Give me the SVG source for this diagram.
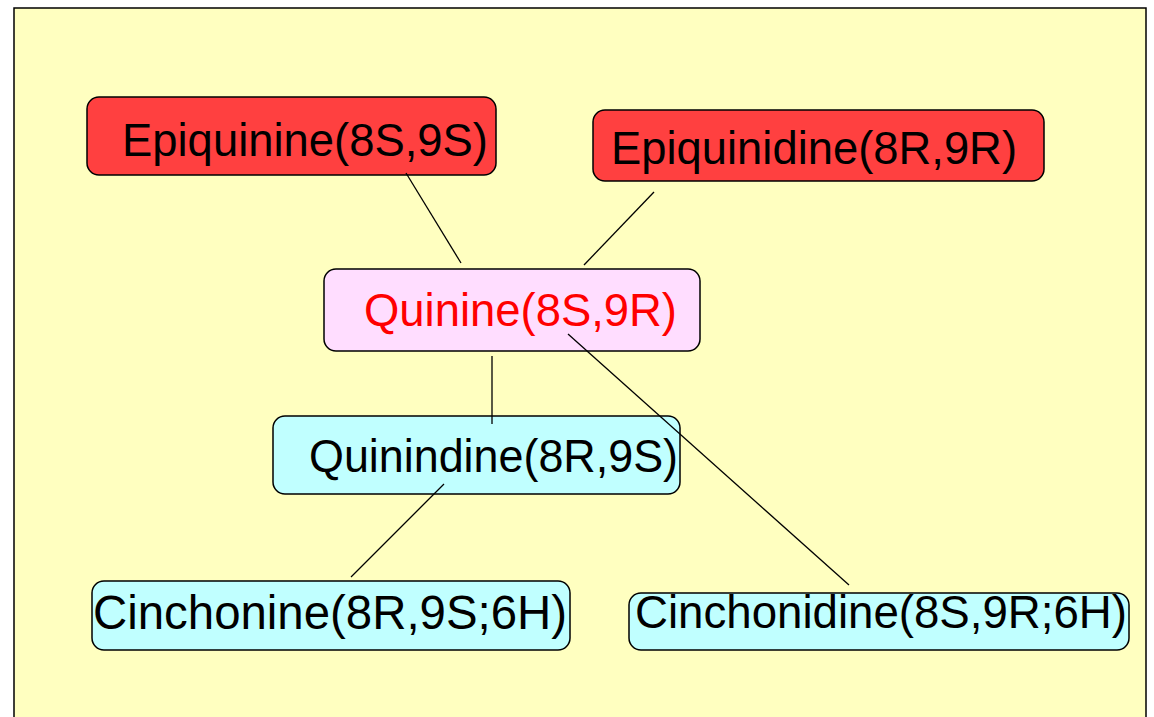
<svg xmlns="http://www.w3.org/2000/svg" width="1154" height="717" viewBox="0 0 1154 717">
<style>
.box{stroke:#000;stroke-width:1.5}
.red{fill:#FF4040}
.pink{fill:#FFDDFF}
.cyan{fill:#C0FFFF}
text{font-family:"Liberation Sans",Arial,sans-serif;font-size:46px;fill:#000}
.conn line{stroke:#000;stroke-width:1.3}
</style>
<rect x="0" y="0" width="1154" height="717" fill="#fff"/>
<rect x="14" y="8" width="1132" height="720" fill="#FFFFC0" stroke="#000" stroke-width="1.5"/>
<g id="epiquinine">
<rect class="box red" x="87" y="97" width="409" height="78" rx="12"/>
<text x="122" y="156" textLength="366" lengthAdjust="spacingAndGlyphs">Epiquinine(8S,9S)</text>
</g>
<g id="epiquinidine">
<rect class="box red" x="593" y="110" width="451" height="71" rx="12"/>
<text x="611" y="164" textLength="406" lengthAdjust="spacingAndGlyphs">Epiquinidine(8R,9R)</text>
</g>
<g id="quinine">
<rect class="box pink" x="324" y="269" width="376" height="82" rx="12"/>
<text x="364" y="326" style="fill:#FF0000" textLength="313" lengthAdjust="spacingAndGlyphs">Quinine(8S,9R)</text>
</g>
<g id="quinindine">
<rect class="box cyan" x="273" y="416" width="407" height="78" rx="12"/>
<text x="309" y="472" textLength="369" lengthAdjust="spacingAndGlyphs">Quinindine(8R,9S)</text>
</g>
<g id="cinchonine">
<rect class="box cyan" x="92" y="581" width="478" height="69" rx="12"/>
<text x="93" y="629" style="font-size:48px" textLength="474" lengthAdjust="spacingAndGlyphs">Cinchonine(8R,9S;6H)</text>
</g>
<g id="cinchonidine">
<rect class="box cyan" x="629" y="593" width="500" height="57" rx="12"/>
<text x="635" y="628" style="font-size:46px" textLength="492" lengthAdjust="spacingAndGlyphs">Cinchonidine(8S,9R;6H)</text>
</g>
<g class="conn" id="connectors">
<line x1="406" y1="173" x2="461" y2="263"/>
<line x1="654" y1="192" x2="584" y2="265"/>
<line x1="492" y1="356" x2="492" y2="424"/>
<line x1="444" y1="484" x2="351" y2="577"/>
<line x1="568" y1="334" x2="849" y2="585"/>
</g>
</svg>
